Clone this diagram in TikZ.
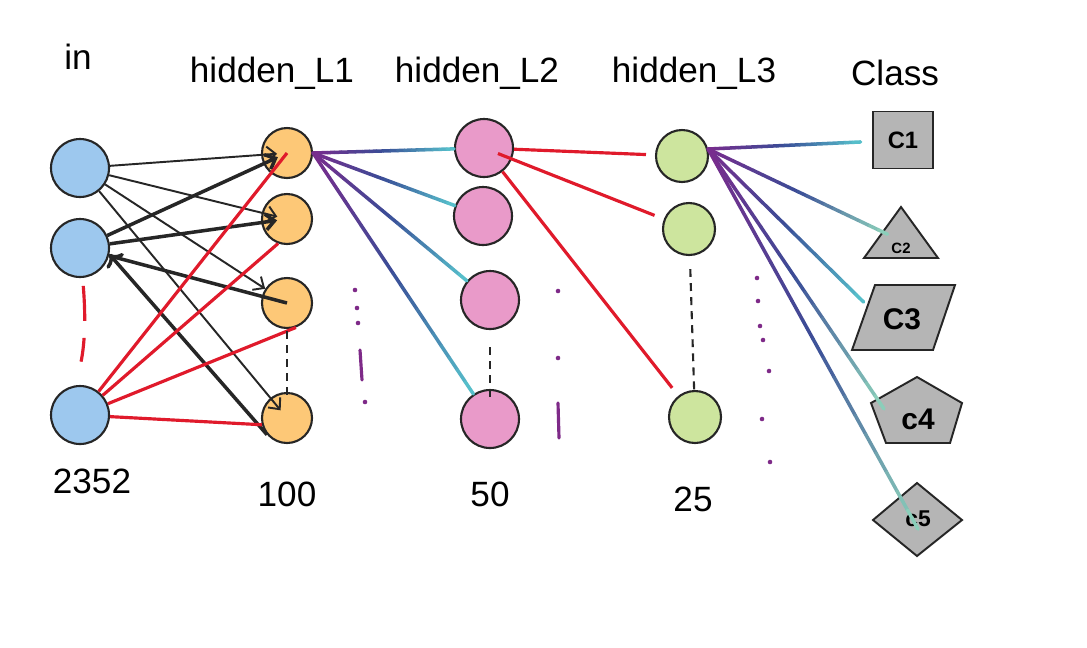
\documentclass[tikz,border=0pt]{standalone}
\usepackage{fontspec}
\setmainfont{Liberation Sans}
\usepackage{tikz}
\usetikzlibrary{arrows.meta, calc}
\usepackage{xcolor}
\definecolor{inblue}{HTML}{9DC8EE}
\definecolor{firstorange}{HTML}{FDC877}
\definecolor{secondpink}{HTML}{E99AC9}
\definecolor{thirdgreen}{HTML}{CDE59E}
\definecolor{classgray}{HTML}{B5B5B5}
\definecolor{edgered}{HTML}{E01A2B}
\definecolor{dotpurple}{HTML}{7E2A88}
\definecolor{gradstart}{HTML}{7A2B8D}
\definecolor{gradmid}{HTML}{3A4D97}
\definecolor{gradend}{HTML}{57C4CD}
\definecolor{gradgreen}{HTML}{8FD5BC}
\tikzset{%
	neuron/.style={
		circle,
		draw=black!85,
		line width=1.2pt,
		inner sep=0pt
	},
	in neuron/.style={neuron, fill=inblue, minimum size=1.16cm},
	first neuron/.style={neuron, fill=firstorange, minimum size=1cm},
	second neuron/.style={neuron, fill=secondpink, minimum size=1.16cm},
	third neuron/.style={neuron, fill=thirdgreen, minimum size=1.04cm},
	layer title/.style={font=\fontsize{20}{24}\selectfont},
	class shape/.style={draw=black!85, fill=classgray, line width=1.1pt},
	class text/.style={font=\bfseries\fontsize{#1}{#1}\selectfont, inner sep=1pt},
	thin arrow/.style={-{Straight Barb[length=5pt,width=9pt]}, line width=1.1pt, draw=black!85},
	thick arrow/.style={thin arrow, line width=2pt},
	red edge/.style={line width=1.8pt, draw=edgered},
	skip dash/.style={line width=1.2pt, draw=black!85, dash pattern=on 4.5pt off 3.5pt},
	grad line/.style={line width=2pt, line cap=round},
	trail dot/.style={fill=dotpurple},
	trail stroke/.style={line width=1.8pt, draw=dotpurple, line cap=round},
}
% colour-graded connector: [end fraction]{from}{to}{end colour}
\newcommand{\gradedge}[4][1]{%
	\path (#2) -- (#3) coordinate[pos=0] (g-s) coordinate[pos=#1] (g-e);
	\foreach \k in {1,...,20}{%
		\pgfmathsetmacro{\ta}{(\k-1)/20}%
		\pgfmathsetmacro{\tb}{\k/20}%
		\ifnum\k<11
			\pgfmathtruncatemacro{\pc}{10*\k-5}%
			\colorlet{segcol}{gradmid!\pc!gradstart}%
		\else
			\pgfmathtruncatemacro{\pc}{10*\k-105}%
			\colorlet{segcol}{#4!\pc!gradmid}%
		\fi
		\draw[grad line, draw=segcol] ($(g-s)!\ta!(g-e)$) -- ($(g-s)!\tb!(g-e)$);
	}%
}
\begin{document}
\begin{tikzpicture}[x=0.02cm, y=-0.02cm]
	\useasboundingbox[fill=white] (0,0) rectangle (1087,647);
	% Input Layer
	\foreach \i/\y in {1/168,2/248,3/415}
	{
		\node[in neuron] (in-\i) at (80,\y) {};
	}
	% Hidden Layer 1
	\foreach \i/\y in {1/153,2/219,3/303,4/418}
	{
		\node[first neuron] (one-\i) at (287,\y) {};
	}
	% Hidden Layer 2
	\foreach \i/\x/\y in {1/484/148,2/483/216,3/490/300,4/490/419}
	{
		\node[second neuron] (two-\i) at (\x,\y) {};
	}
	% Hidden Layer 3
	\foreach \i/\x/\y in {1/682/156,2/689/229,3/695/417}
	{
		\node[third neuron] (three-\i) at (\x,\y) {};
	}
	% Classes
	\node[class shape, class text=13.5, minimum width=1.2cm, minimum height=1.14cm] (c-1) at (903,140) {C1};
	\draw[class shape] (864,258) -- (938,258) -- (901,207) -- cycle;
	\node[class text=8.5] (c-2) at (901,248) {C2};
	\draw[class shape] (852,350) -- (933,350) -- (955,285) -- (875,285) -- cycle;
	\node[class text=17] (c-3) at (902,319) {C3};
	\draw[class shape] (917,377) -- (962,403) -- (950,443) -- (886,443) -- (871,403) -- cycle;
	\node[class text=17] (c-4) at (918,419) {c4};
	\draw[class shape] (917,483) -- (962,520) -- (917,556) -- (873,520) -- cycle;
	\node[class text=13] (c-5) at (918,519) {c5};
	% Connect In-Hidden1
	\foreach \j in {1,2,4}
	{
		\draw[thin arrow, shorten >=0.2cm] (in-1) -- (one-\j.center);
	}
	\draw[thin arrow] (in-1) -- (one-3);
	\foreach \j in {1,2}
	{
		\draw[thick arrow, shorten >=0.2cm] (in-2) -- (one-\j.center);
	}
	\draw[thick arrow, -] (in-2) -- (one-3.center);
	\draw[thick arrow, <-] (in-2.-12) -- (one-4.220);
	\draw[red edge] (in-3) -- (one-1.center);
	\draw[red edge] (in-3) -- (one-2.250);
	\draw[red edge] (in-3) -- (one-3.290);
	\draw[red edge] (in-3) -- (one-4.195);
	% Connect Hidden1-Hidden2
	\foreach \j in {1,...,4}
	{
		\gradedge{one-1.east}{two-\j}{gradend}
	}
	% Connect Hidden2-Hidden3
	\draw[red edge, shorten >=0.18cm] (two-1) -- (three-1);
	\draw[red edge, shorten <=0.3cm, shorten >=0.2cm] (two-1.center) -- (three-2);
	\draw[red edge, shorten >=0.2cm] (two-1) -- (three-3);
	% Connect Hidden3-Classes
	\gradedge[0.93]{three-1.15}{c-1}{gradend}
	\gradedge[0.93]{three-1.15}{c-2.north}{gradgreen}
	\gradedge[0.9]{three-1.15}{c-3.west}{gradend}
	\gradedge[0.92]{three-1.15}{c-4.south west}{gradgreen}
	\gradedge{three-1.15}{c-5.south}{gradgreen}
	% Skipped neurons
	\draw[red edge, dash pattern=on 0.7cm off 0.34cm, shorten <=0.16cm, shorten >=0.48cm] (in-2.-85) to[bend left=8] (in-3.97);
	\draw[skip dash, shorten <=0.04cm, shorten >=-0.16cm] (one-3) -- (one-4);
	\draw[skip dash, shorten <=0.34cm, shorten >=-0.2cm] (two-3) -- (two-4);
	\draw[skip dash, shorten <=0.26cm, shorten >=-0.04cm] (three-2) -- (three-3);
	\foreach \x/\y in {355/290,357/308,358/323,365/402,558/291,558/358,757/278,758/301,760/326,763/340,769/371,762/419,770/462}
	{
		\fill[trail dot] (\x,\y) circle[radius=1.3pt];
	}
	\draw[trail stroke] (360,350) -- (362,380);
	\draw[trail stroke] (558,403) -- (559,438);
	% Titles
	\node[layer title] (t-in) at (78,57) {in};
	\node[layer title] (t-one) at (272,73) {hidden\_L1};
	\node[layer title] (t-two) at (477,73) {hidden\_L2};
	\node[layer title] (t-three) at (694,73) {hidden\_L3};
	\node[layer title] (t-class) at (895,73) {Class};
	% Sizes
	\node[layer title] (n-in) at (92,481) {2352};
	\node[layer title] (n-one) at (287,494) {100};
	\node[layer title] (n-two) at (490,494) {50};
	\node[layer title] (n-three) at (693,499) {25};
\end{tikzpicture}
\end{document}
